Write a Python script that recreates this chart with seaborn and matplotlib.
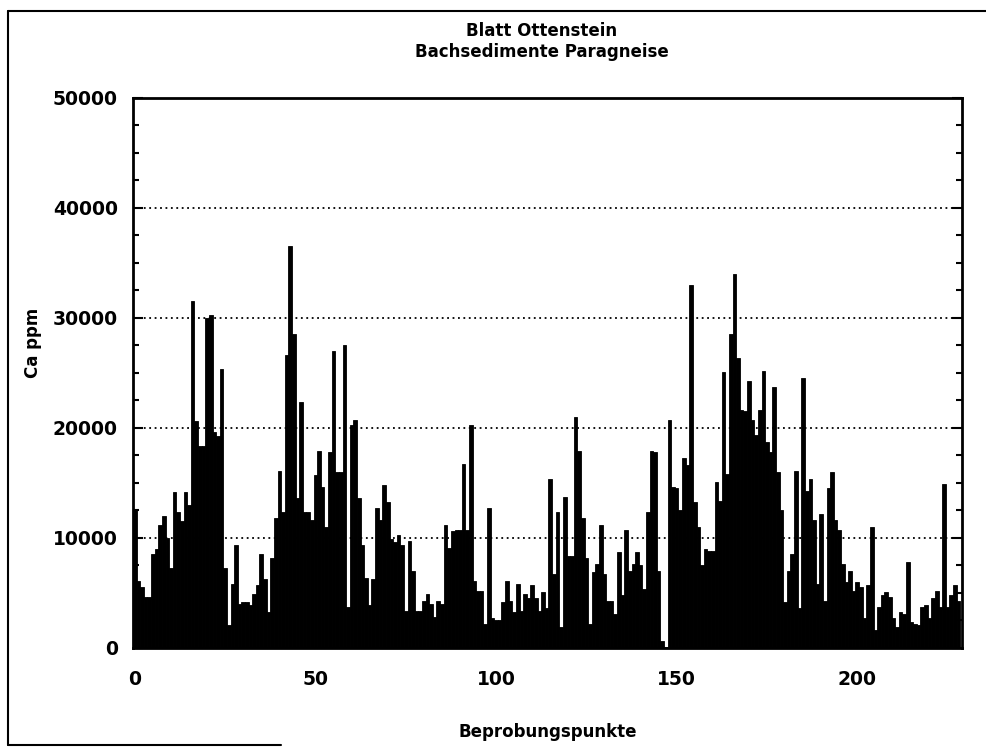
import numpy as np
import pandas as pd
import matplotlib
matplotlib.use("Agg")
import matplotlib.pyplot as plt
import seaborn as sns
from matplotlib.ticker import MultipleLocator
from matplotlib.lines import Line2D

ca_000_049 = [12500, 6100, 5500, 4600, 4600, 8500, 9000, 11200, 12000, 10000,
              7300, 14200, 12400, 11500, 14200, 13000, 31500, 20600, 18400, 18400,
              30000, 30300, 19600, 19300, 25400, 7300, 2100, 5800, 9400, 4000,
              4200, 4200, 3900, 4900, 5700, 8500, 6300, 3300, 8200, 11800,
              16100, 12400, 26600, 36500, 28500, 13600, 22400, 12400, 12400, 11600]
ca_050_099 = [15700, 17900, 14600, 11000, 17800, 27000, 16000, 16000, 27500, 3700,
              20300, 20700, 13600, 9400, 6400, 3900, 6300, 12700, 11600, 14800,
              13300, 9900, 9600, 10300, 9400, 3400, 9700, 7000, 3400, 3400,
              4300, 4900, 4000, 2800, 4300, 4000, 11200, 9100, 10600, 10700,
              10700, 16700, 10700, 20300, 6100, 5200, 5200, 2200, 12700, 2700]
ca_100_149 = [2500, 2500, 4200, 6100, 4300, 3300, 5800, 3400, 4900, 4500,
              5700, 4500, 3400, 5100, 3600, 15400, 6700, 12400, 1900, 13700,
              8400, 8400, 21000, 17900, 11800, 8200, 2200, 6900, 7600, 11200,
              6700, 4300, 4300, 3100, 8700, 4800, 10700, 7000, 7600, 8700,
              7500, 5400, 12400, 17900, 17800, 7000, 600, 100, 20700, 14600]
ca_150_199 = [14500, 12500, 17300, 16600, 33000, 13300, 11000, 7500, 9000, 8800,
              8800, 15100, 13400, 25100, 15800, 28500, 34000, 26400, 21600, 21500,
              24300, 20700, 19400, 21600, 25200, 18700, 17800, 23700, 16000, 12500,
              4200, 7000, 8500, 16100, 3600, 24500, 14300, 15400, 11600, 5800,
              12200, 4300, 14500, 16000, 11600, 10700, 7600, 6000, 7000, 5200]
ca_200_228 = [6000, 5500, 2700, 5700, 11000, 1600, 3700, 4800, 5100, 4600,
              2700, 1900, 3300, 3100, 7800, 2400, 2200, 2100, 3700, 3900,
              2700, 4500, 5200, 3700, 14900, 3700, 4800, 5700, 4300]

ca_ppm = ca_000_049 + ca_050_099 + ca_100_149 + ca_150_199 + ca_200_228
punkte = np.arange(len(ca_ppm))

df = pd.DataFrame({"Punkt": punkte, "Ca": ca_ppm})

sns.set_style("ticks")
plt.rcParams['font.family'] = ['DejaVu Sans']
plt.rcParams['font.weight'] = 'bold'
plt.rcParams['text.color'] = 'black'
plt.rcParams['axes.labelcolor'] = 'black'
plt.rcParams['xtick.color'] = 'black'
plt.rcParams['ytick.color'] = 'black'

fig = plt.figure(figsize=(9.87, 7.48), dpi=100)
ax = fig.add_axes([0.1348, 0.1337, 0.8399, 0.7353])

sns.barplot(data=df, x="Punkt", y="Ca", native_scale=True, width=1.0,
            color="black", edgecolor="black", linewidth=0.6, saturation=1,
            ax=ax)

ax.set_xlim(-0.5, 229)
ax.set_ylim(0, 50000)
ax.xaxis.set_major_locator(MultipleLocator(50))
ax.yaxis.set_major_locator(MultipleLocator(10000))
ax.yaxis.set_minor_locator(MultipleLocator(2500))
ax.tick_params(axis="y", which="both", direction="in", left=True, right=True,
               labelsize=13.5, pad=11, colors="black")
ax.tick_params(axis="y", which="major", length=7, width=1.5)
ax.tick_params(axis="y", which="minor", length=4, width=1.5)
ax.tick_params(axis="x", which="both", direction="in", length=0,
               labelsize=13.5, pad=16, colors="black")
for lbl in ax.get_xticklabels() + ax.get_yticklabels():
    lbl.set_fontweight("bold")

ax.set_axisbelow(True)
for yv in [10000, 20000, 30000, 40000]:
    ax.axhline(yv, color="black", linestyle=(0, (1, 2)), linewidth=1.3, zorder=0)

for s in ax.spines.values():
    s.set_linewidth(2)
    s.set_color("black")

ax.set_xlabel("Beprobungspunkte", fontsize=12, fontweight="bold", color="black")
ax.xaxis.set_label_coords(0.5, -0.136)
ax.set_ylabel("Ca ppm", fontsize=12, fontweight="bold", color="black")
ax.yaxis.set_label_coords(-0.11, 0.555)

fig.text(0.549, 0.958, "Blatt Ottenstein", ha="center", va="center",
         fontsize=12, fontweight="bold", color="black")
fig.text(0.549, 0.930, "Bachsedimente Paragneise", ha="center", va="center",
         fontsize=12, fontweight="bold", color="black")

# Rahmen der gescannten Vorlage
fig.add_artist(Line2D([0.008, 0.008], [0.004, 0.985], transform=fig.transFigure,
                      color="black", linewidth=1.5))
fig.add_artist(Line2D([0.008, 1.0], [0.985, 0.985], transform=fig.transFigure,
                      color="black", linewidth=1.5))
fig.add_artist(Line2D([0.008, 0.285], [0.004, 0.004], transform=fig.transFigure,
                      color="black", linewidth=1.5))

fig.savefig("out.png", dpi=100, facecolor="white")
